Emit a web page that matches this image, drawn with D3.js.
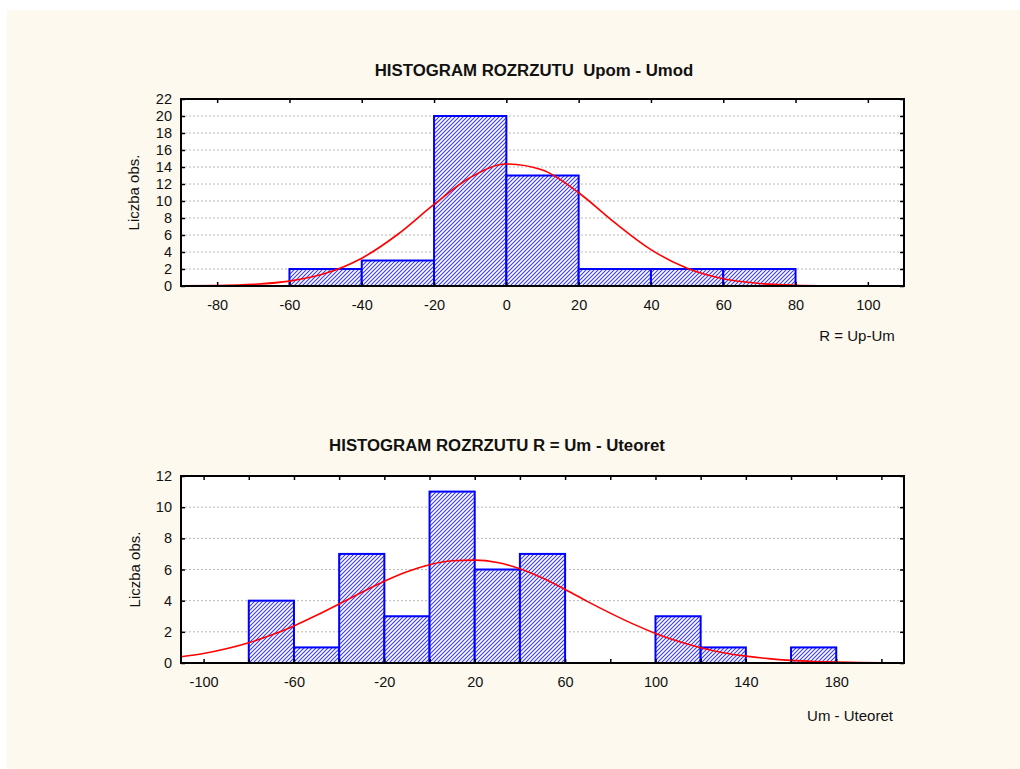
<!DOCTYPE html>
<html lang="en">
<head>
<meta charset="utf-8">
<script src="https://cdn.jsdelivr.net/npm/d3@7"></script>
<style>
    body { margin: 0; background: #ffffff; }
    svg { display: block; font-family: "Liberation Sans", Arial, sans-serif; }
</style>
</head>
<body>
<script>
// ---- data ----
// top histogram: Upom - Umod
const topBinStarts = [-60, -40, -20, 0, 20, 40, 60];
const topCounts    = [2, 3, 20, 13, 2, 2, 2];
const topXTicks    = [-80, -60, -40, -20, 0, 20, 40, 60, 80, 100];
const topYTicks    = [0, 2, 4, 6, 8, 10, 12, 14, 16, 18, 20, 22];
const topCurveX    = [-90, -80, -70, -60, -50, -40, -30, -20, -10, 0, 10, 20, 30, 40, 50, 60, 70, 80, 90, 100, 110];
const topCurveY    = [0.01, 0.05, 0.19, 0.57, 1.49, 3.27, 6.09, 9.6, 12.76, 14.35, 13.65, 10.97, 7.45, 4.28, 2.08, 0.85, 0.3, 0.09, 0.02, 0.0, 0.0];

// bottom histogram: Um - Uteoret
const botBinStarts = [-80, -60, -40, -20, 0, 20, 40, 60, 80, 100, 120, 140, 160];
const botCounts    = [4, 1, 7, 3, 11, 6, 7, 0, 0, 3, 1, 0, 1];
const botXTicks    = [-100, -80, -60, -40, -20, 0, 20, 40, 60, 80, 100, 120, 140, 160, 180, 200];
const botXLabels   = [-100, -60, -20, 20, 60, 100, 140, 180];
const botYTicks    = [0, 2, 4, 6, 8, 10, 12];
const botCurveX    = [-110, -100, -90, -80, -70, -60, -50, -40, -30, -20, -10, 0, 10, 20, 30, 40, 50, 60, 70, 80, 90, 100, 110, 120, 130, 140, 150, 160, 170, 180, 190, 200, 210];
const botCurveY    = [0.4, 0.61, 0.91, 1.3, 1.79, 2.38, 3.06, 3.79, 4.54, 5.25, 5.86, 6.31, 6.56, 6.6, 6.45, 6.05, 5.45, 4.72, 3.94, 3.2, 2.51, 1.9, 1.39, 0.98, 0.66, 0.44, 0.28, 0.17, 0.1, 0.057, 0.03, 0.015, 0.007];

const binWidth = 20;

const W = 1020, H = 769;
const svg = d3.select("body").append("svg").attr("width", W).attr("height", H);

svg.append("rect").attr("x", 7).attr("y", 10).attr("width", W - 7).attr("height", H - 10)
    .attr("fill", "#fef9ee");

const defs = svg.append("defs");
const pat = defs.append("pattern").attr("id", "hatch")
    .attr("patternUnits", "userSpaceOnUse").attr("width", 4).attr("height", 4);
pat.append("rect").attr("width", 4).attr("height", 4).attr("fill", "#ffffff");
pat.append("path").attr("d", "M-1,1 l2,-2 M0,4 l4,-4 M3,5 l2,-2")
    .attr("stroke", "#3838ff").attr("stroke-width", 1.1);

const tickFont = 14.5, labelFont = 15;

function drawHist(opt) {
    const left = 181, right = 904;
    const g = svg.append("g");
    const x = d3.scaleLinear().domain(opt.xDomain).range([left, right]);
    const y = d3.scaleLinear().domain([0, opt.yMax]).range([opt.bottom, opt.top]);

    g.append("rect").attr("x", left).attr("y", opt.top)
        .attr("width", right - left).attr("height", opt.bottom - opt.top)
        .attr("fill", "#ffffff");

    // grid
    g.selectAll(".grid").data(opt.yTicks.filter(d => d > 0 && d < opt.yMax)).enter()
        .append("line")
        .attr("x1", left).attr("x2", right)
        .attr("y1", d => y(d)).attr("y2", d => y(d))
        .attr("stroke", "#b8b8b8").attr("stroke-width", 1)
        .attr("stroke-dasharray", "2,2");

    // bars
    const bars = opt.starts.map((s, i) => ({ x0: s, x1: s + binWidth, n: opt.counts[i] }))
        .filter(d => d.n > 0);
    g.selectAll(".bar").data(bars).enter().append("rect")
        .attr("x", d => x(d.x0)).attr("y", d => y(d.n))
        .attr("width", d => x(d.x1) - x(d.x0))
        .attr("height", d => y(0) - y(d.n))
        .attr("fill", "url(#hatch)")
        .attr("stroke", "#0000ff").attr("stroke-width", 2);

    // curve
    const pts = opt.cx.map((v, i) => [v, opt.cy[i]]);
    const line = d3.line().x(d => x(d[0])).y(d => y(d[1])).curve(d3.curveMonotoneX);
    g.append("path").datum(pts).attr("d", line)
        .attr("fill", "none").attr("stroke", "#ff0000").attr("stroke-width", 1.6);

    // axes (ticks inward)
    const xAxis = d3.axisBottom(x).tickValues(opt.xTicks).tickSizeInner(-4).tickSizeOuter(0)
        .tickPadding(14).tickFormat(d => opt.xLabels.includes(d) ? d : "");
    const gx = g.append("g").attr("transform", `translate(0,${opt.bottom})`).call(xAxis);
    const yAxis = d3.axisLeft(y).tickValues(opt.yTicks).tickSizeInner(-4).tickSizeOuter(0)
        .tickPadding(9);
    const gy = g.append("g").attr("transform", `translate(${left},0)`).call(yAxis);
    const xTop = d3.axisTop(x).tickValues(opt.xTicks).tickSizeInner(-4).tickSizeOuter(0).tickFormat("");
    const gt = g.append("g").attr("transform", `translate(0,${opt.top})`).call(xTop);
    const yRight = d3.axisRight(y).tickValues(opt.yTicks).tickSizeInner(-4).tickSizeOuter(0).tickFormat("");
    const gr = g.append("g").attr("transform", `translate(${right},0)`).call(yRight);
    [gx, gy, gt, gr].forEach(a => {
        a.select(".domain").remove();
        a.selectAll("line").attr("stroke", "#000").attr("stroke-width", 1.5);
        a.selectAll("text").attr("font-size", tickFont).attr("fill", "#111")
            .style("font-family", "'Liberation Sans', Arial, sans-serif");
    });

    g.append("rect").attr("x", left).attr("y", opt.top)
        .attr("width", right - left).attr("height", opt.bottom - opt.top)
        .attr("fill", "none").attr("stroke", "#000").attr("stroke-width", 2);

    g.append("text").attr("x", opt.titleX).attr("y", opt.titleY)
        .attr("text-anchor", "middle").attr("font-weight", "bold").attr("font-size", 16.8)
        .attr("fill", "#111").style("white-space", "pre").text(opt.title);
    g.append("text")
        .attr("transform", `translate(${opt.yLabelX},${(opt.top + opt.bottom) / 2}) rotate(-90)`)
        .attr("text-anchor", "middle").attr("font-size", labelFont).attr("fill", "#111")
        .text("Liczba obs.");
    g.append("text").attr("x", opt.xLabelX).attr("y", opt.xLabelY)
        .attr("text-anchor", "middle").attr("font-size", labelFont).attr("fill", "#111")
        .text(opt.xLabel);
}

drawHist({
    top: 99, bottom: 286, xDomain: [-90, 110], yMax: 22,
    starts: topBinStarts, counts: topCounts,
    xTicks: topXTicks, xLabels: topXTicks, yTicks: topYTicks,
    cx: topCurveX, cy: topCurveY,
    title: "HISTOGRAM ROZRZUTU  Upom - Umod", titleX: 534, titleY: 76,
    yLabelX: 139, xLabel: "R = Up-Um", xLabelX: 857, xLabelY: 341
});

drawHist({
    top: 476, bottom: 663, xDomain: [-110, 210], yMax: 12,
    starts: botBinStarts, counts: botCounts,
    xTicks: botXTicks, xLabels: botXLabels, yTicks: botYTicks,
    cx: botCurveX, cy: botCurveY,
    title: "HISTOGRAM ROZRZUTU R = Um - Uteoret", titleX: 497, titleY: 451,
    yLabelX: 140, xLabel: "Um - Uteoret", xLabelX: 850, xLabelY: 721
});
</script>
</body>
</html>
